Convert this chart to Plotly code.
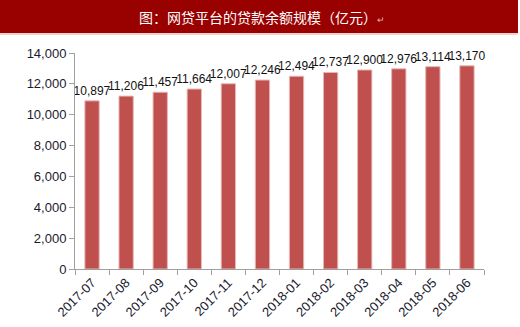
import plotly.graph_objects as go

months = ["2017-07", "2017-08", "2017-09", "2017-10", "2017-11", "2017-12",
          "2018-01", "2018-02", "2018-03", "2018-04", "2018-05", "2018-06"]
balance = [10897, 11206, 11457, 11664, 12007, 12246,
           12494, 12737, 12900, 12976, 13114, 13170]
y_ticks = [0, 2000, 4000, 6000, 8000, 10000, 12000, 14000]
title_text = "图：网贷平台的贷款余额规模（亿元）<span style='font-size:9px;color:#e8b0b0'>↵</span>"

PW, PH = 409, 216  # plot area size in px

fig = go.Figure()
fig.add_trace(go.Bar(
    x=months, y=balance,
    marker=dict(color="#C0504D", line=dict(color="#E6B8B7", width=1)),
    text=[f"{v:,}" for v in balance],
    textposition="outside",
    constraintext="none",
    textangle=0,
    textfont=dict(family="Liberation Sans, Open Sans, sans-serif", size=12, color="#111111"),
    cliponaxis=False,
))

fig.update_layout(
    width=520, height=327,
    margin=dict(l=75, r=36, t=53, b=58),
    paper_bgcolor="white", plot_bgcolor="white",
    bargap=0.58,
    showlegend=False,
    font=dict(family="Liberation Sans, Open Sans, sans-serif", size=12, color="#1a1a2e"),
    shapes=[
        dict(type="rect", xref="paper", yref="paper", x0=-75/PW, x1=(518-75)/PW,
             y0=1 + (53-33)/PH, y1=1 + 53/PH,
             fillcolor="#990000", line=dict(width=0), layer="below"),
        dict(type="line", xref="paper", yref="paper", x0=-75/PW, x1=(518-75)/PW,
             y0=1 + (53-34)/PH, y1=1 + (53-34)/PH,
             line=dict(color="#E8A0A0", width=1)),
    ],
    annotations=[dict(
        text=title_text, xref="paper", yref="paper",
        x=(262-75)/PW, y=1 + (53-16.5)/PH, xanchor="center", yanchor="middle",
        showarrow=False,
        font=dict(family="Noto Sans CJK SC", size=14, color="white"),
    )],
)

fig.update_xaxes(
    type="category",
    tickangle=-45,
    tickson="boundaries",
    ticks="outside", ticklen=5, tickcolor="#A0A0A0",
    showline=True, linecolor="#A0A0A0", linewidth=1,
    showgrid=False,
    automargin=False,
    tickfont=dict(size=13, color="#1a1a2e"),
)
fig.update_yaxes(
    range=[0, 14000],
    tickvals=y_ticks,
    tickformat=",",
    ticks="outside", ticklen=5, tickcolor="#A0A0A0",
    showline=True, linecolor="#A0A0A0", linewidth=1,
    showgrid=False, zeroline=False,
    automargin=False,
    tickfont=dict(size=13, color="#1a1a2e"),
)

fig.write_html("out.html")
